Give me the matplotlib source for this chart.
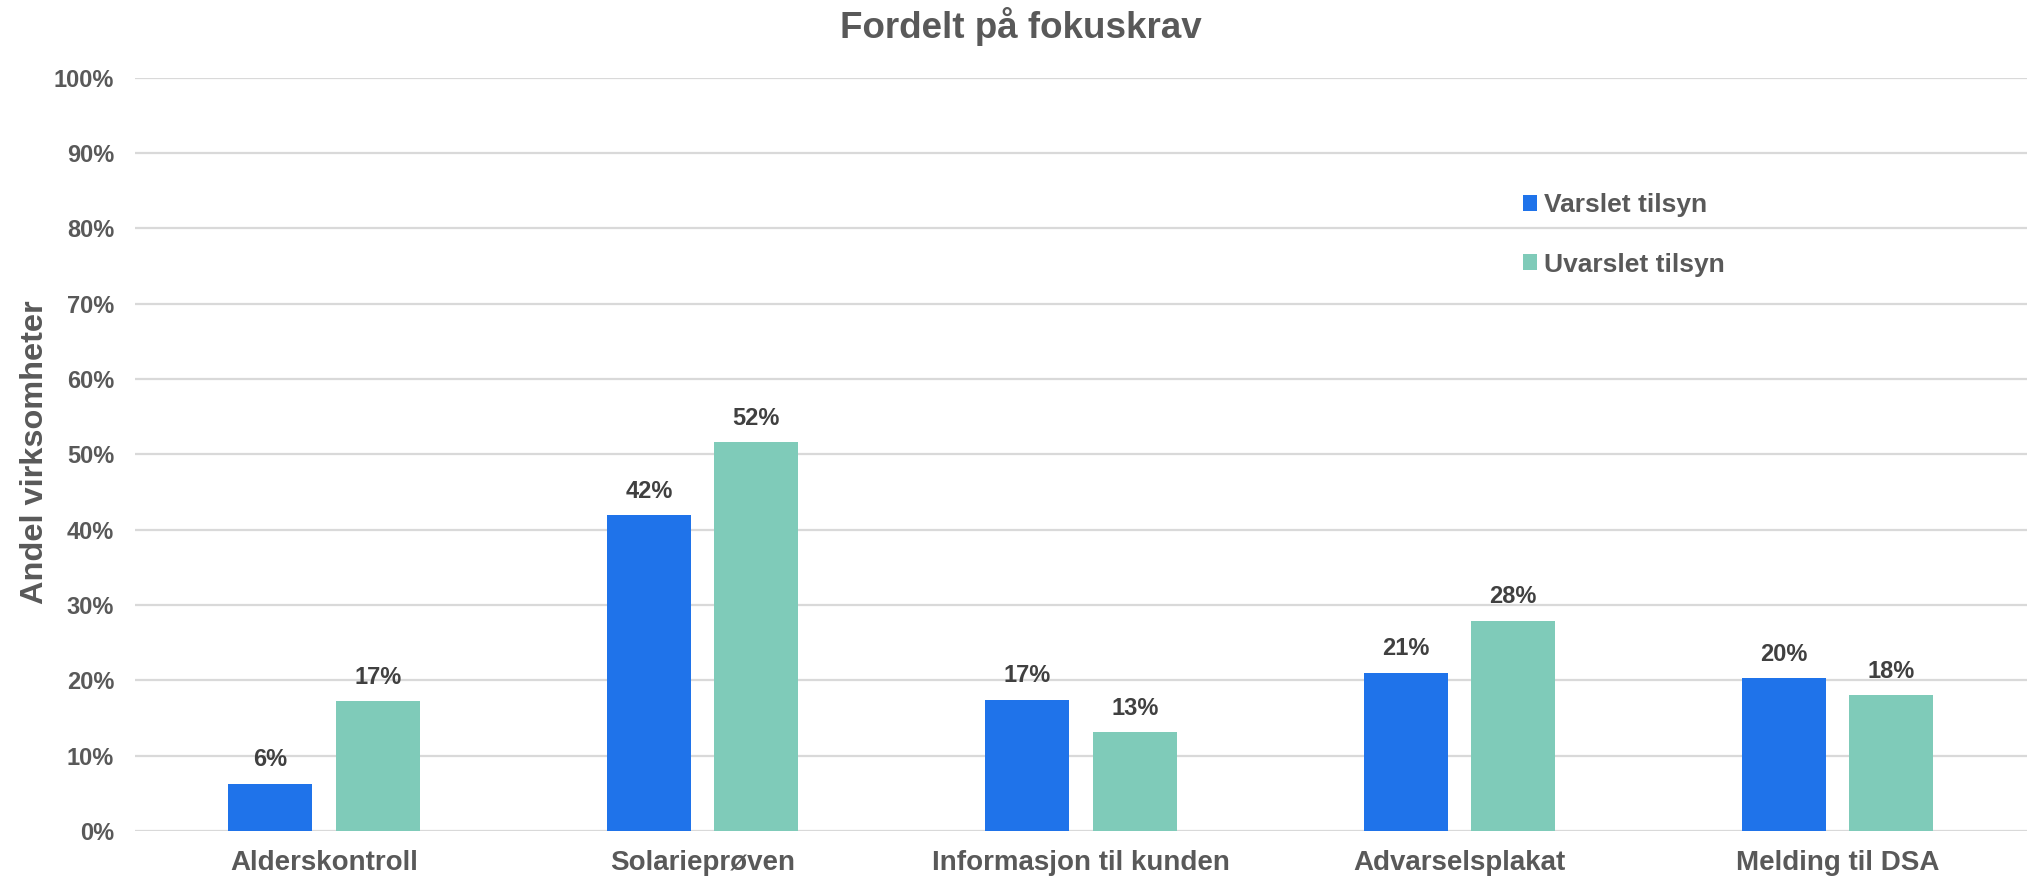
import numpy as np
import matplotlib
matplotlib.use("Agg")
import matplotlib.pyplot as plt

# data
categories = ["Alderskontroll", "Solarieprøven", "Informasjon til kunden",
              "Advarselsplakat", "Melding til DSA"]
varslet = [6.3, 41.9, 17.4, 21.0, 20.3]
uvarslet = [17.2, 51.6, 13.1, 27.9, 18.0]
varslet_labels = ["6%", "42%", "17%", "21%", "20%"]
uvarslet_labels = ["17%", "52%", "13%", "28%", "18%"]
yticks = [0, 10, 20, 30, 40, 50, 60, 70, 80, 90, 100]

plt.rcParams['font.family'] = ['Liberation Sans', 'DejaVu Sans']
plt.rcParams['font.weight'] = 'bold'

blue = '#1F73EA'
teal = '#7FCBB9'
grey = '#595959'
dark = '#404040'

fig = plt.figure(figsize=(20.3, 8.81), dpi=100)
ax = fig.add_axes([0.0665, 0.0568, 0.932, 0.855])

x = np.arange(len(categories))
w = 0.222
off = 0.142
b1 = ax.bar(x - off, varslet, w, color=blue, label="Varslet tilsyn", zorder=3)
b2 = ax.bar(x + off, uvarslet, w, color=teal, label="Uvarslet tilsyn", zorder=3)

for bars, labs in [(b1, varslet_labels), (b2, uvarslet_labels)]:
    for rect, lab in zip(bars, labs):
        ax.annotate(lab, (rect.get_x() + rect.get_width() / 2, rect.get_height()),
                    xytext=(0, 9), textcoords='offset points',
                    ha='center', va='bottom', fontsize=17, color=dark, fontweight='bold')

ax.set_xlim(-0.5, 4.5)
ax.set_ylim(0, 100)
ax.set_yticks(yticks)
ax.set_yticklabels([f"{t}%" for t in yticks])
ax.set_xticks(x)
ax.set_xticklabels(categories)
ax.tick_params(axis='y', length=0, pad=15, labelsize=17, labelcolor=grey)
ax.tick_params(axis='x', length=0, pad=14, labelsize=20, labelcolor=grey)
ax.grid(axis='y', color='#D9D9D9', linewidth=1.6, zorder=0)
for s in ax.spines.values():
    s.set_visible(False)

fig.text(0.503, 0.970, "Fordelt på fokuskrav", ha='center', va='center',
         fontsize=26.5, color=grey, fontweight='bold')
fig.text(0.017, 0.487, "Andel virksomheter", ha='center', va='center',
         rotation=90, fontsize=23.4, color=grey, fontweight='bold')

leg = ax.legend(loc='upper left', bbox_to_anchor=(0.750, 0.781),
                bbox_transform=fig.transFigure, frameon=False,
                fontsize=19, handlelength=0.55, handleheight=0.55,
                handletextpad=0.25, labelspacing=1.35, borderpad=0, borderaxespad=0)
for t in leg.get_texts():
    t.set_color(grey)
    t.set_fontweight('bold')

fig.savefig("out.png", dpi=100)
